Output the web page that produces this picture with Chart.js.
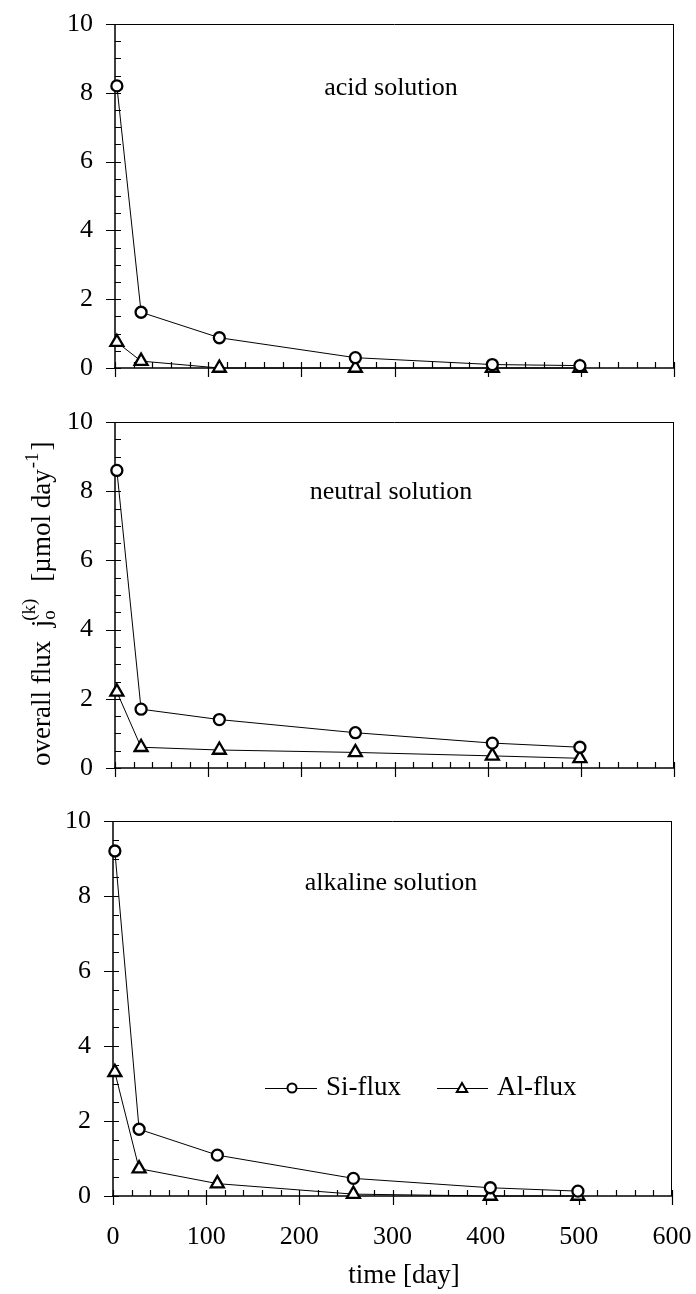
<!DOCTYPE html>
<html><head><meta charset="utf-8">
<script src="https://cdn.jsdelivr.net/npm/chart.js@4.4.1/dist/chart.umd.min.js"></script>
<style>
html,body{margin:0;padding:0;background:#fff;overflow:hidden;}
#wrap{position:relative;width:696px;height:1294px;background:#fff;overflow:hidden;}
canvas{position:absolute;left:-100px;top:-100px;}
</style></head><body>
<div id="wrap">
<canvas id="c0" width="896" height="1494"></canvas>
<canvas id="c1" width="896" height="1494"></canvas>
<canvas id="c2" width="896" height="1494"></canvas>
</div>
<script>
// ---- data ----
const days = [2, 28, 112, 258, 405, 499];
const acidSi = [8.2, 1.62, 0.88, 0.3, 0.1, 0.07];
const acidAl = [0.75, 0.2, 0.0, 0.0, 0.0, 0.0];
const neutralSi = [8.6, 1.7, 1.4, 1.02, 0.72, 0.6];
const neutralAl = [2.2, 0.6, 0.52, 0.45, 0.35, 0.28];
const alkalineSi = [9.2, 1.78, 1.09, 0.47, 0.22, 0.13];
const alkalineAl = [3.3, 0.73, 0.33, 0.05, 0.0, 0.0];
const panelLabels = ['acid solution', 'neutral solution', 'alkaline solution'];
const seriesNames = ['Si-flux', 'Al-flux'];
const xTicks = [0, 100, 200, 300, 400, 500, 600];
const yTicks = [0, 2, 4, 6, 8, 10];
const xTitle = 'time [day]';

const OFF = 100;          // canvas offset (canvas is larger than the page)
const CW = 696 + 2 * OFF, CH = 1294 + 2 * OFF;
const SERIF = '"Liberation Serif", "DejaVu Serif", serif';
Chart.defaults.font.family = SERIF;
Chart.defaults.color = '#000';

const axesPlugin = {
  id: 'axesFrame',
  beforeDatasetsDraw(chart) {
    const {ctx, chartArea: a, scales: {x, y}} = chart;
    ctx.save();
    ctx.strokeStyle = '#000';
    ctx.lineWidth = 1;
    ctx.beginPath();
    ctx.moveTo(a.left, a.top + 0.5); ctx.lineTo(a.right, a.top + 0.5);
    ctx.moveTo(a.right - 0.5, a.top); ctx.lineTo(a.right - 0.5, a.bottom);
    ctx.stroke();
    ctx.lineWidth = 1.5;
    ctx.beginPath();
    ctx.moveTo(a.left, a.top); ctx.lineTo(a.left, a.bottom + 1);
    ctx.moveTo(a.left - 1, a.bottom); ctx.lineTo(a.right, a.bottom);
    ctx.stroke();
    ctx.lineWidth = 1.2;
    ctx.beginPath();
    const ymin = yTicks[0], ymax = yTicks[yTicks.length - 1];
    for (let k = 0; k <= (ymax - ymin) * 2; k++) {
      const v = ymin + k * 0.5;
      const py = Math.round(y.getPixelForValue(v)) + 0.5;
      const major = yTicks.includes(v);
      ctx.moveTo(a.left - (major ? 9 : 0), py); ctx.lineTo(a.left + 6, py);
    }
    const xmin = xTicks[0], xmax = xTicks[xTicks.length - 1];
    for (let k = 0; k <= (xmax - xmin) / 20; k++) {
      const v = xmin + k * 20;
      const px = Math.round(x.getPixelForValue(v)) + 0.5;
      const major = xTicks.includes(v);
      ctx.moveTo(px, a.bottom + (major ? 9 : 0)); ctx.lineTo(px, a.bottom - 6);
    }
    ctx.stroke();
    ctx.restore();
  }
};

const textPlugin = {
  id: 'panelText',
  afterDraw(chart, args, opts) {
    const ctx = chart.ctx;
    ctx.save();
    ctx.translate(OFF, OFF);
    ctx.fillStyle = '#000';
    ctx.font = '26px ' + SERIF;
    ctx.textAlign = 'center';
    ctx.textBaseline = 'middle';
    ctx.fillText(opts.label, opts.lx, opts.ly);
    if (opts.yTitle) drawYTitle(ctx);
    if (opts.legend) drawLegend(ctx, chart);
    if (opts.xTitle) {
      ctx.font = '27px ' + SERIF;
      ctx.textAlign = 'center';
      ctx.textBaseline = 'middle';
      ctx.fillStyle = '#000';
      ctx.fillText(xTitle, 404, 1276);
    }
    ctx.restore();
  }
};

function drawYTitle(ctx) {
  ctx.save();
  ctx.translate(50, 766);
  ctx.rotate(-Math.PI / 2);
  ctx.textAlign = 'left';
  ctx.textBaseline = 'alphabetic';
  let x = 0;
  const big = '27px ' + SERIF, small = '19px ' + SERIF;
  ctx.font = big;
  const s1 = 'overall flux  j';
  ctx.fillText(s1, x, 0); x += ctx.measureText(s1).width;
  ctx.font = small;
  ctx.fillText('o', x, 5);
  ctx.fillText('(k)', x - 1, -15);
  x += ctx.measureText('(k)').width + 16;
  ctx.font = big;
  const s2 = '[\u00b5mol day';
  ctx.fillText(s2, x, 0); x += ctx.measureText(s2).width;
  ctx.font = small;
  ctx.fillText('-1', x + 1, -12); x += ctx.measureText('-1').width + 3;
  ctx.font = big;
  ctx.fillText(']', x, 0);
  ctx.restore();
}

function markerPath(ctx, style, cx, cy, r) {
  ctx.beginPath();
  if (style === 'circle') {
    ctx.arc(cx, cy, r, 0, Math.PI * 2);
  } else {
    ctx.moveTo(cx, cy - r);
    ctx.lineTo(cx + r * Math.sin(Math.PI / 3), cy + r / 2);
    ctx.lineTo(cx - r * Math.sin(Math.PI / 3), cy + r / 2);
    ctx.closePath();
  }
}

function drawLegend(ctx, chart) {
  const items = [
    {l0: 265, l1: 317, m: 292, t: 326, style: 'circle', r: 4.5},
    {l0: 437, l1: 488, m: 462, t: 497, style: 'triangle', r: 6}
  ];
  const yc = 1088;
  chart.data.datasets.forEach((ds, i) => {
    const it = items[i];
    ctx.strokeStyle = '#000';
    ctx.lineWidth = 1;
    ctx.beginPath(); ctx.moveTo(it.l0, yc + 0.5); ctx.lineTo(it.l1, yc + 0.5); ctx.stroke();
    ctx.lineWidth = 2;
    markerPath(ctx, it.style, it.m, yc + (it.style === 'triangle' ? 1 : 0), it.r);
    ctx.fillStyle = '#fff'; ctx.fill(); ctx.stroke();
    ctx.fillStyle = '#000';
    ctx.font = '27px ' + SERIF;
    ctx.textAlign = 'left';
    ctx.textBaseline = 'middle';
    ctx.fillText(ds.label, it.t, yc);
  });
}

function makePanel(id, si, al, label, area, extra) {
  const yW = 60;
  const xH = extra.showX ? 60 : 0;
  const mk = (vals) => days.map((d, i) => ({x: d, y: vals[i]}));
  new Chart(document.getElementById(id), {
    type: 'line',
    data: {
      datasets: [
        {label: seriesNames[0], data: mk(si), borderColor: '#000', borderWidth: 1,
         pointStyle: 'circle', pointRadius: 5.5, pointBorderWidth: 2.3,
         pointBackgroundColor: '#fff', pointBorderColor: '#000', clip: false, tension: 0},
        {label: seriesNames[1], data: mk(al), borderColor: '#000', borderWidth: 1,
         pointStyle: 'triangle', pointRadius: 7.5, pointBorderWidth: 2.3,
         pointBackgroundColor: '#fff', pointBorderColor: '#000', clip: false, tension: 0}
      ]
    },
    options: {
      responsive: false, animation: false, events: [],
      layout: {autoPadding: false, padding: {
        left: area.l + OFF - yW, top: area.t + OFF,
        right: CW - (area.r + OFF), bottom: CH - (area.b + OFF) - xH}},
      plugins: {
        legend: {display: false}, tooltip: {enabled: false},
        panelText: Object.assign({label: label, lx: 391, ly: area.ly}, extra)
      },
      scales: {
        x: {
          type: 'linear', min: xTicks[0], max: xTicks[xTicks.length - 1],
          afterBuildTicks: s => { s.ticks = xTicks.map(v => ({value: v})); },
          grid: {display: false, drawTicks: false, tickLength: 0},
          border: {display: false},
          ticks: {display: !!extra.showX, padding: 26, color: '#000', font: {size: 26, family: SERIF}, maxRotation: 0, autoSkip: false},
          afterFit: s => { s.height = xH; }
        },
        y: {
          type: 'linear', min: yTicks[0], max: yTicks[yTicks.length - 1],
          afterBuildTicks: s => { s.ticks = yTicks.map(v => ({value: v})); },
          grid: {display: false, drawTicks: false, tickLength: 0},
          border: {display: false},
          ticks: {padding: 22, color: '#000', font: {size: 26, family: SERIF}, autoSkip: false},
          afterFit: s => { s.width = yW; }
        }
      }
    },
    plugins: [axesPlugin, textPlugin]
  });
}

makePanel('c0', acidSi, acidAl, panelLabels[0], {l: 115, r: 674, t: 24, b: 368, ly: 88}, {});
makePanel('c1', neutralSi, neutralAl, panelLabels[1], {l: 115, r: 674, t: 422, b: 768, ly: 492}, {yTitle: true});
makePanel('c2', alkalineSi, alkalineAl, panelLabels[2], {l: 113, r: 672, t: 821, b: 1196, ly: 883}, {showX: true, legend: true, xTitle: true});
</script>
</body></html>
